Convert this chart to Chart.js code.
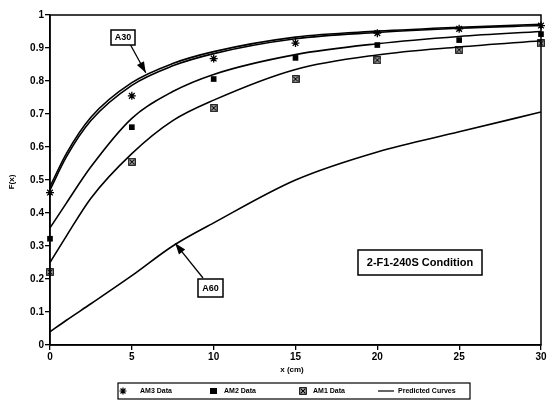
<!DOCTYPE html>
<html>
<head>
<meta charset="utf-8">
<script src="https://cdn.jsdelivr.net/npm/chart.js@4.4.1/dist/chart.umd.min.js"></script>
<style>
  html, body { margin: 0; padding: 0; background: #fff; }
  #wrap { width: 548px; height: 400px; }
</style>
</head>
<body>
<div id="wrap"><canvas id="fxChart" width="548" height="400"></canvas></div>
<script>
// measured points
const xData = [0, 5, 10, 15, 20, 25, 30];
const am3Data = [0.462, 0.755, 0.868, 0.915, 0.945, 0.958, 0.968];
const am2Data = [0.322, 0.66, 0.806, 0.87, 0.909, 0.924, 0.942];
const am1Data = [0.221, 0.555, 0.718, 0.806, 0.863, 0.895, 0.914];

// predicted curves
const curveX = [0, 1, 2.5, 5, 7.5, 10, 15, 20, 25, 30];
const predA30a = [0.48, 0.58, 0.69, 0.795, 0.853, 0.889, 0.933, 0.951, 0.963, 0.972];
const predA30b = [0.47, 0.57, 0.68, 0.787, 0.846, 0.883, 0.928, 0.947, 0.96, 0.968];
const predAM2 = [0.355, 0.43, 0.54, 0.687, 0.768, 0.82, 0.88, 0.913, 0.935, 0.95];
const predAM1 = [0.25, 0.33, 0.445, 0.58, 0.68, 0.742, 0.835, 0.879, 0.903, 0.922];
const predA60 = [0.04, 0.075, 0.125, 0.21, 0.30, 0.37, 0.50, 0.585, 0.646, 0.706];

const yTicks = [0, 0.1, 0.2, 0.3, 0.4, 0.5, 0.6, 0.7, 0.8, 0.9, 1];
const legendLabels = ['AM3 Data', 'AM2 Data', 'AM1 Data', 'Predicted Curves'];

const FONT = '"Liberation Sans", Arial, sans-serif';

// boxed X marker for the AM1 series
function boxedX(size) {
    const c = document.createElement('canvas');
    c.width = size; c.height = size;
    const g = c.getContext('2d');
    g.strokeStyle = '#000';
    g.lineWidth = 1.3;
    g.strokeRect(0.8, 0.8, size - 1.6, size - 1.6);
    g.beginPath();
    g.moveTo(2, 2); g.lineTo(size - 2, size - 2);
    g.moveTo(size - 2, 2); g.lineTo(2, size - 2);
    g.stroke();
    return c;
}
const boxMarker = boxedX(8);

const pts = (xs, ys) => xs.map((x, i) => ({ x: x, y: ys[i] }));

function curve(ys) {
    return {
        type: 'line',
        data: pts(curveX, ys),
        borderColor: '#000',
        borderWidth: 1.6,
        pointRadius: 0,
        fill: false,
        cubicInterpolationMode: 'monotone'
    };
}

function drawArrow(ctx, x1, y1, x2, y2) {
    ctx.beginPath();
    ctx.moveTo(x1, y1);
    ctx.lineTo(x2, y2);
    ctx.stroke();
    const a = Math.atan2(y2 - y1, x2 - x1);
    const len = 11, w = 4;
    ctx.beginPath();
    ctx.moveTo(x2, y2);
    ctx.lineTo(x2 - len * Math.cos(a) + w * Math.sin(a), y2 - len * Math.sin(a) - w * Math.cos(a));
    ctx.lineTo(x2 - len * Math.cos(a) - w * Math.sin(a), y2 - len * Math.sin(a) + w * Math.cos(a));
    ctx.closePath();
    ctx.fill();
}

function labelBox(ctx, text, x, y, w, h, size) {
    ctx.fillStyle = '#fff';
    ctx.fillRect(x, y, w, h);
    ctx.lineWidth = 1.5;
    ctx.strokeRect(x, y, w, h);
    ctx.fillStyle = '#000';
    ctx.font = 'bold ' + size + 'px ' + FONT;
    ctx.textAlign = 'center';
    ctx.textBaseline = 'middle';
    ctx.fillText(text, x + w / 2, y + h / 2 + 0.5);
}

// frame, annotations, axis titles and the legend strip
const decorations = {
    id: 'decorations',
    afterDraw(chart) {
        const ctx = chart.ctx;
        const a = chart.chartArea;
        const xs = chart.scales.x, ys = chart.scales.y;
        ctx.save();
        ctx.strokeStyle = '#000';
        ctx.fillStyle = '#000';
        ctx.lineWidth = 1.5;
        ctx.strokeRect(a.left, a.top, a.right - a.left, a.bottom - a.top);

        // A30 callout
        ctx.lineWidth = 1.3;
        drawArrow(ctx, 130, 44, xs.getPixelForValue(5.85), ys.getPixelForValue(0.825));
        labelBox(ctx, 'A30', 111, 30, 24, 15, 9);

        // A60 callout
        ctx.lineWidth = 1.3;
        drawArrow(ctx, 203, 278, xs.getPixelForValue(7.65), ys.getPixelForValue(0.308));
        labelBox(ctx, 'A60', 198, 279, 25, 18, 9);

        labelBox(ctx, '2-F1-240S Condition', 358, 250, 124, 25, 11);

        // axis titles
        ctx.font = 'bold 8px ' + FONT;
        ctx.textAlign = 'center';
        ctx.textBaseline = 'middle';
        ctx.fillText('x (cm)', 292, 370);
        ctx.save();
        ctx.translate(12, 182);
        ctx.rotate(-Math.PI / 2);
        ctx.fillText('F(x)', 0, 0);
        ctx.restore();

        // legend
        ctx.lineWidth = 1.2;
        ctx.strokeRect(118, 383, 352, 16);
        const ly = 391;
        ctx.font = 'bold 7px ' + FONT;
        ctx.textAlign = 'left';
        ctx.lineWidth = 1.2;
        // asterisk
        const sx = 123;
        ctx.beginPath();
        for (let k = 0; k < 4; k++) {
            const ang = k * Math.PI / 4;
            ctx.moveTo(sx - 3.5 * Math.cos(ang), ly - 3.5 * Math.sin(ang));
            ctx.lineTo(sx + 3.5 * Math.cos(ang), ly + 3.5 * Math.sin(ang));
        }
        ctx.stroke();
        ctx.fillText(legendLabels[0], 140, ly);
        ctx.fillRect(210, ly - 3, 7, 6);
        ctx.fillText(legendLabels[1], 224, ly);
        ctx.drawImage(boxMarker, 299, ly - 4, 8, 8);
        ctx.fillText(legendLabels[2], 313, ly);
        ctx.beginPath();
        ctx.moveTo(378, ly);
        ctx.lineTo(394, ly);
        ctx.stroke();
        ctx.fillText(legendLabels[3], 398, ly);
        ctx.restore();
    }
};

new Chart(document.getElementById('fxChart'), {
    type: 'scatter',
    data: {
        datasets: [
            {
                label: legendLabels[0],
                data: pts(xData, am3Data),
                pointStyle: 'star',
                pointRadius: 4,
                borderColor: '#000',
                borderWidth: 1.3,
                backgroundColor: '#000',
                clip: false
            },
            {
                label: legendLabels[1],
                data: pts(xData, am2Data),
                pointStyle: 'rect',
                pointRadius: 4,
                borderColor: '#000',
                borderWidth: 0,
                backgroundColor: '#000',
                clip: false
            },
            {
                label: legendLabels[2],
                data: pts(xData, am1Data),
                pointStyle: boxMarker,
                pointRadius: 4,
                clip: false
            },
            curve(predA30a),
            curve(predA30b),
            curve(predAM2),
            curve(predAM1),
            curve(predA60)
        ]
    },
    options: {
        responsive: false,
        animation: false,
        events: [],
        layout: { padding: { top: 15, right: 7, left: 0, bottom: 0 } },
        plugins: {
            legend: { display: false },
            tooltip: { enabled: false }
        },
        scales: {
            x: {
                type: 'linear',
                min: 0,
                max: 30,
                afterFit: s => { s.height = 55; },
                ticks: {
                    stepSize: 5,
                    color: '#000',
                    padding: 1,
                    font: { family: FONT, size: 10, weight: 'bold' }
                },
                grid: { drawOnChartArea: false, tickLength: 5, color: '#000', lineWidth: 1.3 },
                border: { color: '#000', width: 1.5 }
            },
            y: {
                min: 0,
                max: 1,
                afterFit: s => { s.width = 50; },
                afterBuildTicks: s => { s.ticks = yTicks.map(v => ({ value: v })); },
                ticks: {
                    color: '#000',
                    padding: 1,
                    font: { family: FONT, size: 10, weight: 'bold' },
                    callback: v => String(Math.round(v * 10) / 10)
                },
                grid: { drawOnChartArea: false, tickLength: 5, color: '#000', lineWidth: 1.3 },
                border: { color: '#000', width: 1.5 }
            }
        }
    },
    plugins: [decorations]
});
</script>
</body>
</html>
